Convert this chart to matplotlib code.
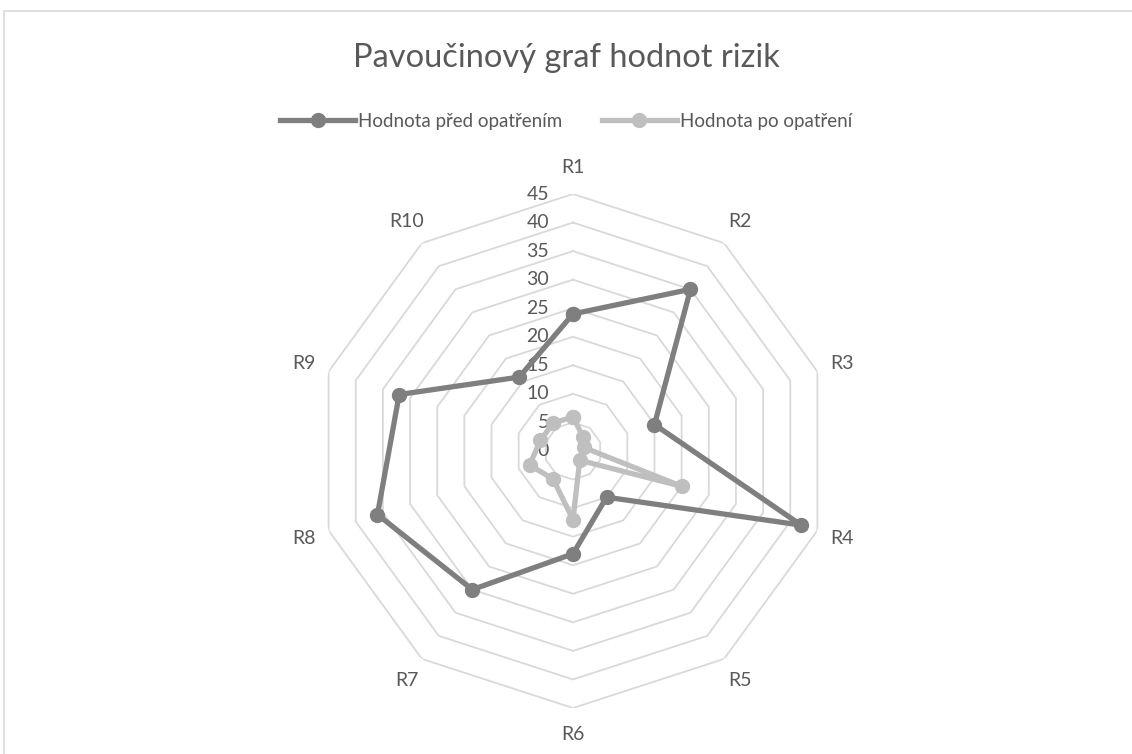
import numpy as np
import matplotlib.pyplot as plt
from matplotlib.lines import Line2D
from matplotlib.patches import Rectangle
import matplotlib.transforms as mtransforms

plt.rcParams['font.family'] = ['Lato', 'DejaVu Sans']

# data
categories = ['R1', 'R2', 'R3', 'R4', 'R5', 'R6', 'R7', 'R8', 'R9', 'R10']
pred = [24, 35, 15, 42, 10, 18, 30, 36, 32, 16]   # Hodnota před opatřením
po = [6, 3, 2, 20, 2, 12, 6, 8, 6, 6]             # Hodnota po opatření
rings = [5, 10, 15, 20, 25, 30, 35, 40, 45]
rlabels = [0, 5, 10, 15, 20, 25, 30, 35, 40, 45]

txt = '#595959'
dark = '#7f7f7f'
light = '#bfbfbf'
gridc = '#d9d9d9'

fig = plt.figure(figsize=(11.32, 7.54), dpi=100)

# chart border
fig.patches.append(Rectangle((4 / 1132, -0.05), 1.2, 1 - 11 / 754 + 0.05,
                             transform=fig.transFigure, fill=False,
                             edgecolor=gridc, lw=1.2))

ax = fig.add_axes([316 / 1132, 46 / 754, 514 / 1132, 514 / 754], projection='polar')
ax.set_theta_zero_location('N')
ax.set_theta_direction(-1)
ax.set_ylim(0, 45)
ax.grid(False)
ax.spines['polar'].set_visible(False)
ax.set_xticks([])
ax.set_yticks([])
ax.patch.set_alpha(0)

theta = np.linspace(0, 2 * np.pi, len(categories), endpoint=False)
tclosed = np.append(theta, theta[0])

# polygon grid
for r in rings:
    ax.plot(tclosed, [r] * len(tclosed), color=gridc, lw=1.3, zorder=1)

# radial labels
off = mtransforms.offset_copy(ax.transData, fig=fig, x=-24, y=0, units='dots')
for v in rlabels:
    ax.text(0, v, str(v), transform=off, ha='right', va='center',
            fontsize=14, color=txt)

# category labels
for t, c in zip(theta, categories):
    ax.text(t, 49.6, c, ha='center', va='center', fontsize=14, color=txt,
            clip_on=False)

ax.plot(tclosed, pred + pred[:1], color=dark, lw=3.8, marker='o', ms=10,
        zorder=3)
ax.plot(tclosed, po + po[:1], color=light, lw=3.8, marker='o', ms=10,
        zorder=3)

fig.text(0.5, 1 - 58 / 754, 'Pavoučinový graf hodnot rizik', ha='center',
         va='center', fontsize=23.5, color=txt)

handles = [Line2D([], [], color=dark, lw=3.8, marker='o', ms=10),
           Line2D([], [], color=light, lw=3.8, marker='o', ms=10)]
fig.legend(handles, ['Hodnota před opatřením', 'Hodnota po opatření'],
           loc='center', bbox_to_anchor=(0.5, 1 - 121 / 754), ncol=2,
           frameon=False, fontsize=13.5, labelcolor=txt, handlelength=4.0,
           handletextpad=0.15, columnspacing=2.1)

fig.savefig('out.png', dpi=100)
